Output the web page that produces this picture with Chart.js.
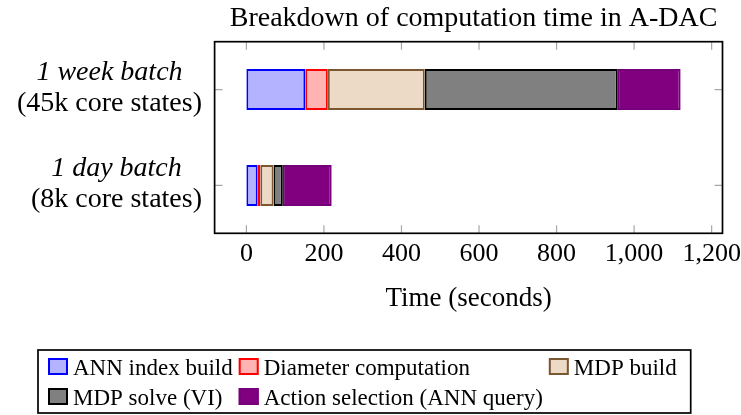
<!DOCTYPE html>
<html>
<head>
<meta charset="utf-8">
<script src="https://cdn.jsdelivr.net/npm/chart.js@4/dist/chart.umd.min.js"></script>
<style>
  html, body { margin: 0; padding: 0; background: #ffffff; }
  #wrap { width: 741px; height: 415px; position: relative; }
</style>
</head>
<body>
<div id="wrap"><canvas id="c" width="741" height="415"></canvas></div>
<script>
// Two batch sizes, each broken down into the five pipeline stages (seconds)
const categories = [['1 week batch', '(45k core states)'], ['1 day batch', '(8k core states)']];
const seriesNames = ['ANN index build', 'Diameter computation', 'MDP build', 'MDP solve (VI)', 'Action selection (ANN query)'];
const annIndexBuild = [152, 29];
const diameterComputation = [58, 7];
const mdpBuild = [250, 34];
const mdpSolve = [498, 24];
const actionSelection = [162, 126];
const xTickValues = [0, 200, 400, 600, 800, 1000, 1200];
const chartTitle = 'Breakdown of computation time in A-DAC';
const xAxisTitle = 'Time (seconds)';

const SERIF = '"Liberation Serif", "Times New Roman", serif';

const styles = [
  { fill: '#b3b3ff', line: '#0000ff' },
  { fill: '#ffb3b3', line: '#ff0000' },
  { fill: '#ecd9c6', line: '#7a5631' },
  { fill: '#808080', line: '#000000' },
  { fill: '#800080', line: '#76007a' }
];
const seriesValues = [annIndexBuild, diameterComputation, mdpBuild, mdpSolve, actionSelection];

const datasets = seriesValues.map((vals, i) => ({
  label: seriesNames[i],
  data: vals,
  backgroundColor: styles[i].fill,
  borderColor: styles[i].line,
  borderWidth: 2,
  borderSkipped: false,
  barPercentage: 0.428,
  categoryPercentage: 1.0
}));

// Frame, inward tick marks, category labels, titles and the boxed legend
const decorations = {
  id: 'decorations',
  beforeDraw(chart) {
    const ctx = chart.ctx;
    ctx.save();
    ctx.fillStyle = '#ffffff';
    ctx.fillRect(0, 0, chart.width, chart.height);
    ctx.restore();
  },
  afterDraw(chart) {
    const { ctx, chartArea: a, scales: { x, y } } = chart;
    ctx.save();

    // inward tick marks on all four sides
    ctx.strokeStyle = '#a8a8a8';
    ctx.lineWidth = 1.2;
    const tl = 8;
    ctx.beginPath();
    x.ticks.forEach(t => {
      const px = x.getPixelForValue(t.value);
      ctx.moveTo(px, a.bottom); ctx.lineTo(px, a.bottom - tl);
      ctx.moveTo(px, a.top); ctx.lineTo(px, a.top + tl);
    });
    categories.forEach((c, i) => {
      const py = y.getPixelForTick(i);
      ctx.moveTo(a.left, py); ctx.lineTo(a.left + tl, py);
      ctx.moveTo(a.right, py); ctx.lineTo(a.right - tl, py);
    });
    ctx.stroke();

    // axis frame
    ctx.strokeStyle = '#000000';
    ctx.lineWidth = 1.7;
    ctx.strokeRect(a.left, a.top, a.width, a.height);

    // category labels: italic first line, upright second line, block right-aligned
    ctx.fillStyle = '#000000';
    ctx.textBaseline = 'alphabetic';
    ctx.textAlign = 'center';
    const fontA = 'italic 28px ' + SERIF;
    const fontB = '28px ' + SERIF;
    const blockRight = 202;
    categories.forEach((lines, i) => {
      const py = y.getPixelForTick(i);
      ctx.font = fontA; const w1 = ctx.measureText(lines[0]).width;
      ctx.font = fontB; const w2 = ctx.measureText(lines[1]).width;
      const cx = blockRight - Math.max(w1, w2) / 2;
      ctx.font = fontA; ctx.fillText(lines[0], cx, py - 9.5);
      ctx.font = fontB; ctx.fillText(lines[1], cx, py + 21.5);
    });

    // chart title
    const midX = (a.left + a.right) / 2;
    ctx.font = '28px ' + SERIF;
    ctx.fillText(chartTitle, midX + 5, 26);

    // x-axis title
    ctx.font = '27px ' + SERIF;
    ctx.fillText(xAxisTitle, midX, 306);

    // legend: three columns, two rows, inside a black box
    const lg = { left: 38, top: 350, bottom: 413, padL: 10, padR: 14, iconW: 20, iconH: 17, gap: 5, colGap: 6, baselines: [375, 405], cols: 3 };
    ctx.font = '23px ' + SERIF;
    ctx.textAlign = 'left';
    const ds = chart.data.datasets;
    const colW = [];
    ds.forEach((d, i) => {
      const c = i % lg.cols;
      colW[c] = Math.max(colW[c] || 0, ctx.measureText(d.label).width);
    });
    const xs = [lg.left + lg.padL];
    for (let c = 1; c < lg.cols; c++) xs[c] = xs[c - 1] + lg.iconW + lg.gap + colW[c - 1] + lg.colGap;
    const boxRight = xs[lg.cols - 1] + lg.iconW + lg.gap + colW[lg.cols - 1] + lg.padR;
    ctx.strokeStyle = '#000000';
    ctx.lineWidth = 1.7;
    ctx.strokeRect(lg.left, lg.top, boxRight - lg.left, lg.bottom - lg.top);
    ds.forEach((d, i) => {
      const r = Math.floor(i / lg.cols), c = i % lg.cols;
      const ix = xs[c], base = lg.baselines[r];
      ctx.fillStyle = d.backgroundColor;
      ctx.fillRect(ix, base - lg.iconH, lg.iconW, lg.iconH);
      ctx.strokeStyle = d.borderColor;
      ctx.lineWidth = 2;
      ctx.strokeRect(ix + 1, base - lg.iconH + 1, lg.iconW - 2, lg.iconH - 2);
      ctx.fillStyle = '#000000';
      ctx.fillText(d.label, ix + lg.iconW + lg.gap, base);
    });

    ctx.restore();
  }
};

new Chart(document.getElementById('c'), {
  type: 'bar',
  data: { labels: categories, datasets },
  options: {
    indexAxis: 'y',
    responsive: false,
    animation: false,
    devicePixelRatio: 1,
    layout: { padding: { top: 41.7, right: 18.5, bottom: 0, left: 0 } },
    plugins: { legend: { display: false }, title: { display: false }, tooltip: { enabled: false } },
    scales: {
      x: {
        type: 'linear',
        stacked: true,
        min: -82,
        max: 1228,
        grid: { display: false, drawTicks: false },
        border: { display: false },
        afterBuildTicks: s => { s.ticks = xTickValues.map(v => ({ value: v })); },
        afterFit: s => { s.height = 415 - 233.3; s.paddingLeft = 0; s.paddingRight = 0; },
        ticks: {
          padding: 5,
          color: '#000000',
          font: { family: SERIF, size: 26 },
          maxRotation: 0,
          autoSkip: false,
          callback: v => Number(v).toLocaleString('en-US')
        }
      },
      y: {
        type: 'category',
        stacked: true,
        grid: { display: false, drawTicks: false },
        border: { display: false },
        ticks: { display: false },
        afterFit: s => { s.width = 214.6; s.paddingTop = 0; s.paddingBottom = 0; }
      }
    }
  },
  plugins: [decorations]
});
</script>
</body>
</html>
